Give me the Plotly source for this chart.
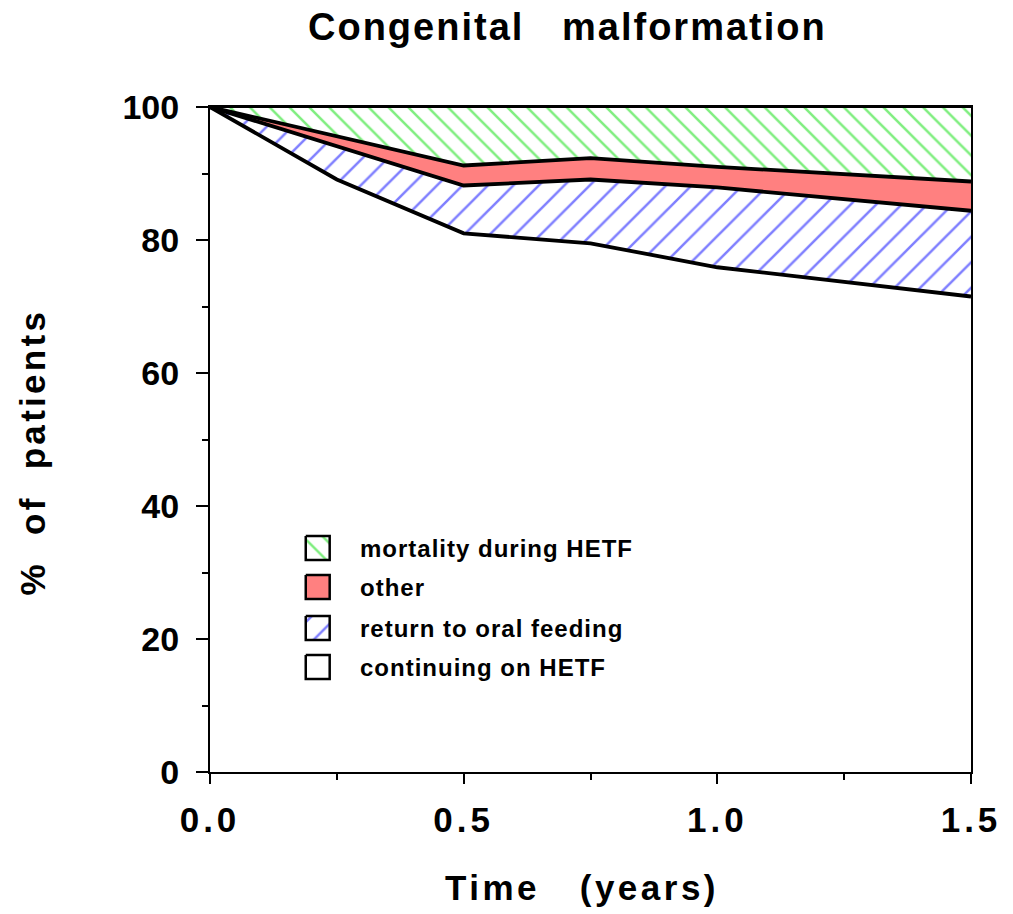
import plotly.graph_objects as go

# ---- data ----
years = [0, 0.25, 0.5, 0.75, 1.0, 1.5]
continuing_hetf = [100, 89.1, 81.0, 79.5, 75.9, 71.5]

years_upper = [0, 0.5, 0.75, 1.0, 1.5]
oral_feeding_top = [100, 88.2, 89.1, 87.9, 84.4]
other_top = [100, 91.2, 92.3, 91.0, 88.8]

years_total = [0, 1.5]
total = [100, 100]

series_names = ["continuing on HETF", "return to oral feeding", "other", "mortality during HETF"]
x_tickvals = [0, 0.5, 1.0, 1.5]
x_ticktext = ["0.0", "0.5", "1.0", "1.5"]

FONT = "Liberation Sans, Arial, sans-serif"
BLUE = "#0000ff"
GREEN = "#00dd00"
RED = "#ff8080"

# plot-area pixel frame (for placing text in paper coordinates)
L, R, T, B = 210, 973, 107, 772


def px_x(p):
    return (p - L) / (R - L)


def px_y(p):
    return (B - p) / (B - T)


def spaced(text, px):
    return f"<span style='letter-spacing:{px}px'>{text}</span>"


GREEN_PAT = dict(shape="\\", fgcolor=GREEN, bgcolor="white", size=14, solidity=0.18)
BLUE_PAT = dict(shape="/", fgcolor=BLUE, bgcolor="white", size=18, solidity=0.14)

fig = go.Figure()

# stacked regions
fig.add_trace(go.Scatter(x=years, y=continuing_hetf, mode="lines", name=series_names[0],
                         fill="tozeroy", fillcolor="white",
                         line=dict(color="black", width=3.8), showlegend=False))
fig.add_trace(go.Scatter(x=years_upper, y=oral_feeding_top, mode="lines", name=series_names[1],
                         fill="tonexty", fillcolor="white", fillpattern=BLUE_PAT,
                         line=dict(color="black", width=3.8), showlegend=False))
fig.add_trace(go.Scatter(x=years_upper, y=other_top, mode="lines", name=series_names[2],
                         fill="tonexty", fillcolor=RED,
                         line=dict(color="black", width=3.8), showlegend=False))
fig.add_trace(go.Scatter(x=years_total, y=total, mode="lines", name=series_names[3],
                         fill="tonexty", fillcolor="white", fillpattern=GREEN_PAT,
                         line=dict(color="black", width=2), showlegend=False))

# ---- custom legend (pixel overlay axes) ----
legend_rows = [
    ("mortality during HETF", 548, GREEN_PAT, "white"),
    ("other", 587, None, RED),
    ("return to oral feeding", 628, BLUE_PAT, "white"),
    ("continuing on HETF", 667, None, "white"),
]
half = 12
cx = 318
for label, cy, pat, fc in legend_rows:
    kw = dict(fillpattern=pat) if pat else {}
    fig.add_trace(go.Scatter(
        x=[cx - half, cx + half, cx + half, cx - half, cx - half],
        y=[cy - half, cy - half, cy + half, cy + half, cy - half],
        xaxis="x2", yaxis="y2", mode="lines", fill="toself", fillcolor=fc,
        line=dict(color="black", width=2.5), showlegend=False, hoverinfo="skip", **kw))
    fig.add_annotation(x=px_x(358), y=px_y(cy), xref="paper", yref="paper", text=spaced(label, 1),
                       showarrow=False, xanchor="left", yanchor="middle",
                       font=dict(family=FONT, size=24, color="black", weight="bold"))

# titles
fig.add_annotation(x=px_x(568), y=px_y(27), xref="paper", yref="paper",
                   text=spaced("Congenital   malformation", 2),
                   showarrow=False, xanchor="center", yanchor="middle",
                   font=dict(family=FONT, size=38, color="black", weight="bold"))
fig.add_annotation(x=px_x(583), y=px_y(887), xref="paper", yref="paper",
                   text=spaced("Time   (years)", 3.5),
                   showarrow=False, xanchor="center", yanchor="middle",
                   font=dict(family=FONT, size=35, color="black", weight="bold"))
fig.add_annotation(x=px_x(32), y=px_y(452), xref="paper", yref="paper",
                   text=spaced("%  of  patients", 3.3),
                   showarrow=False, xanchor="center", yanchor="middle", textangle=-90,
                   font=dict(family=FONT, size=35, color="black", weight="bold"))

fig.update_layout(
    width=1013, height=914,
    margin=dict(l=L, r=1013 - R, t=T, b=914 - B),
    plot_bgcolor="white", paper_bgcolor="white",
    showlegend=False,
    xaxis=dict(range=[0, 1.5], tickvals=x_tickvals, ticktext=[spaced(t, 4) for t in x_ticktext],
               ticks="outside", ticklen=10, tickwidth=2, tickcolor="black",
               showline=True, linewidth=2, linecolor="black", mirror=True,
               showgrid=False, zeroline=False, ticklabelstandoff=6,
               minor=dict(tickvals=[0.25, 0.75, 1.25], ticks="outside", ticklen=6, tickwidth=2, tickcolor="black"),
               tickfont=dict(family=FONT, size=35, color="black", weight="bold")),
    yaxis=dict(range=[0, 100], tickvals=[0, 20, 40, 60, 80, 100],
               ticks="outside", ticklen=12, tickwidth=2, tickcolor="black",
               showline=True, linewidth=2, linecolor="black", mirror=True,
               showgrid=False, zeroline=False, ticklabelstandoff=10,
               minor=dict(tickvals=[10, 30, 50, 70, 90], ticks="outside", ticklen=6, tickwidth=2, tickcolor="black"),
               tickfont=dict(family=FONT, size=34, color="black", weight="bold")),
    xaxis2=dict(range=[L, R], overlaying="x", visible=False, fixedrange=True),
    yaxis2=dict(range=[B, T], overlaying="y", visible=False, fixedrange=True),
)

fig.write_html("out.html")
